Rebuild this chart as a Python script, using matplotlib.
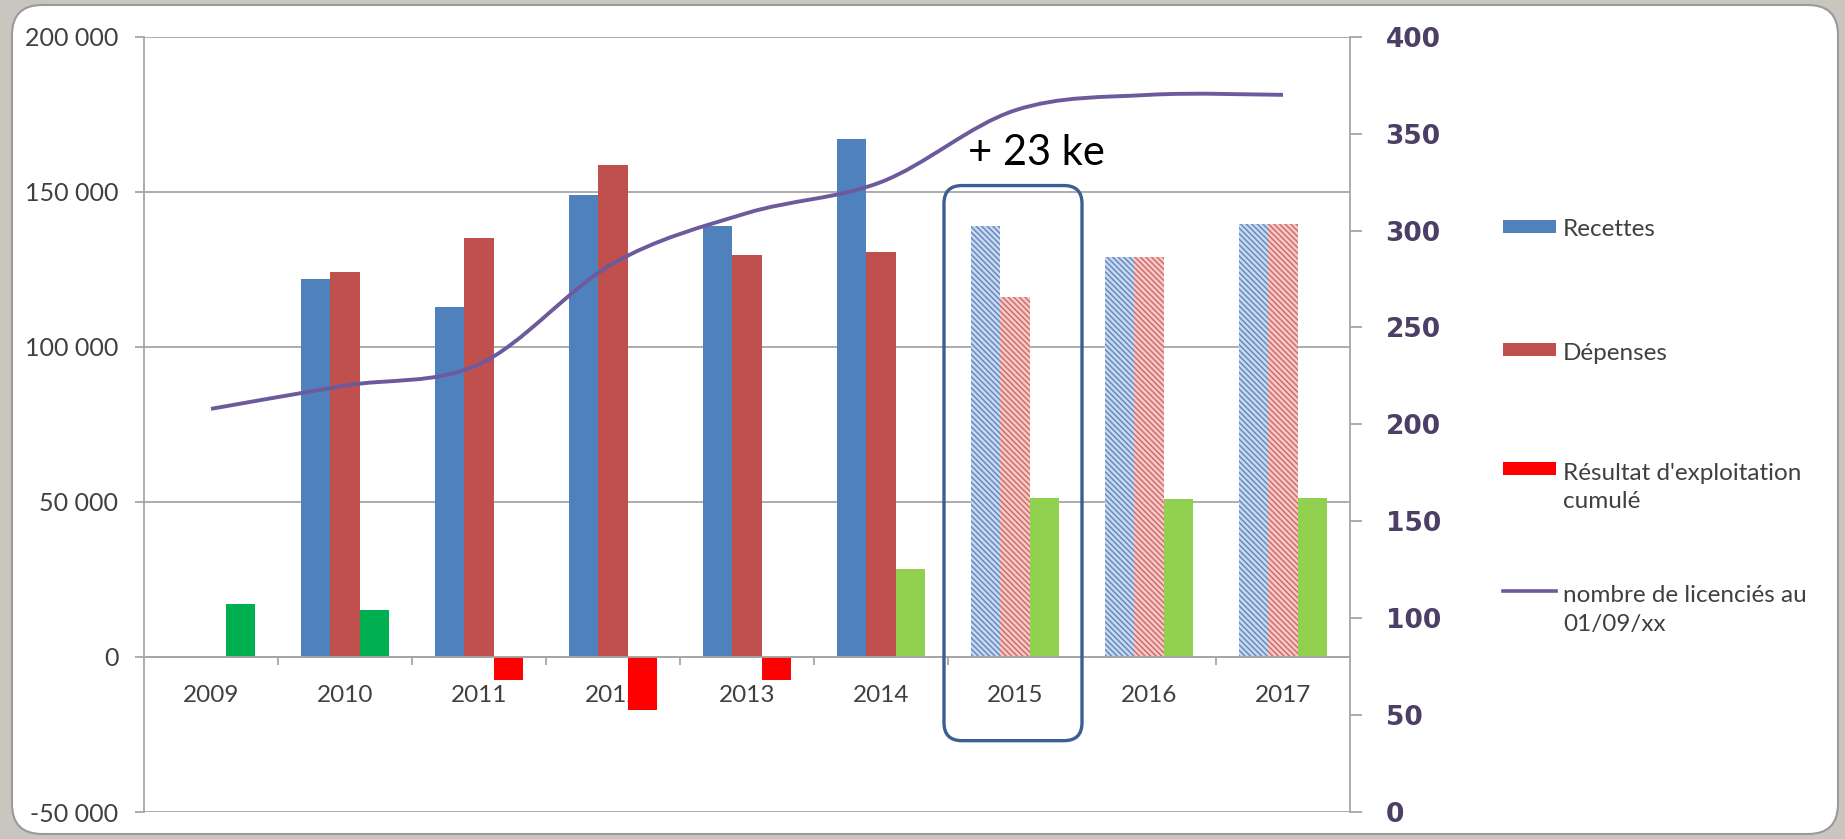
import matplotlib
matplotlib.use("Agg")
import matplotlib.pyplot as plt
import numpy as np
from matplotlib.lines import Line2D
from matplotlib.patches import FancyBboxPatch, PathPatch, Rectangle
from matplotlib.path import Path

W, H = 1845, 839

years = ["2009", "2010", "2011", "2012", "2013", "2014", "2015", "2016", "2017"]
recettes = [0, 122000, 113000, 149000, 139000, 167000, 139000, 129000, 139500]
depenses = [0, 124000, 135000, 158500, 129500, 130500, 116000, 129000, 139500]
resultat = [17200, 15000, -7500, -17000, -7500, 28300, 51300, 50900, 51300]
licencies = [208, 220, 231, 283, 309, 325, 362, 370, 370]
projected = [False, False, False, False, False, False, True, True, True]

BLUE = "#4F81BD"
RED = "#C0504D"
BLUE_LIGHT, BLUE_HATCH = "#c9d8ee", "#5e86bd"
RED_LIGHT, RED_HATCH = "#f6c9c7", "#cc6866"
RESULT_COLORS = ["#00B050", "#00B050", "#FF0000", "#FF0000", "#FF0000",
                 "#92D050", "#92D050", "#92D050", "#92D050"]
PURPLE = "#6c5a9c"
GRID = "#a6a6a6"
TEXT = "#404040"
RIGHT_TEXT = "#4d3e66"

plt.rcParams["font.family"] = ["Lato", "DejaVu Sans"]
plt.rcParams["hatch.linewidth"] = 1.0


def smooth_path(xs, ys):
    # Bezier curve through the points, like Excel's "smoothed line"
    pts = np.column_stack([xs, ys]).astype(float)
    n = len(pts)
    verts, codes = [pts[0]], [Path.MOVETO]
    for i in range(n - 1):
        p0, p1 = pts[max(i - 1, 0)], pts[i]
        p2, p3 = pts[i + 1], pts[min(i + 2, n - 1)]
        verts += [p1 + (p2 - p0) / 6, p2 - (p3 - p1) / 6, p2]
        codes += [Path.CURVE4] * 3
    return Path(verts, codes)


fig = plt.figure(figsize=(W / 100, H / 100), dpi=100)
fig.patch.set_facecolor("#c9c6c0")
panel = FancyBboxPatch((12 / W, 1 - 834 / H), 1826 / W, 829 / H,
                       boxstyle=f"round,pad=0,rounding_size={30 / W}",
                       mutation_aspect=W / H, transform=fig.transFigure,
                       facecolor="white", edgecolor="#9a9a9a", lw=1.5, zorder=-5)
fig.patches.append(panel)

ax_l, ax_b, ax_r, ax_t = 144, 812, 1350, 36.7
ax = fig.add_axes([ax_l / W, 1 - ax_b / H, (ax_r - ax_l) / W, (ax_b - ax_t) / H])
ax.set_facecolor("none")

x = np.arange(len(years))
proj = np.array(projected)
rec = np.array(recettes)
dep = np.array(depenses)
w = 0.22

ax.bar(x[~proj] - w, rec[~proj], w, color=BLUE, lw=0)
ax.bar(x[proj] - w, rec[proj], w, facecolor=BLUE_LIGHT, edgecolor=BLUE_HATCH,
       hatch="\\\\\\\\\\\\", lw=0)
ax.bar(x[~proj], dep[~proj], w, color=RED, lw=0)
ax.bar(x[proj], dep[proj], w, facecolor=RED_LIGHT, edgecolor=RED_HATCH,
       hatch="\\\\\\\\\\\\", lw=0)
ax.bar(x + w, resultat, w, color=RESULT_COLORS, lw=0)

ax.set_xlim(-0.5, len(years) - 0.5)
ax.set_ylim(-50000, 200000)
left_ticks = np.arange(-50000, 200001, 50000)
ax.set_yticks(left_ticks, [f"{int(v):,}".replace(",", " ") for v in left_ticks])
ax.grid(axis="y", color=GRID, lw=1.3)
ax.set_axisbelow(True)
for s in ["top", "right"]:
    ax.spines[s].set_visible(False)
ax.spines["left"].set_color(GRID)
ax.spines["left"].set_linewidth(1.3)
ax.spines["bottom"].set_position(("data", 0))
ax.spines["bottom"].set_color(GRID)
ax.spines["bottom"].set_linewidth(1.3)

ax.set_xticks(x[:-1] + 0.5)
ax.set_xticklabels([])
ax.set_xticks(x, minor=True)
ax.set_xticklabels(years, minor=True)
ax.tick_params(axis="x", which="major", direction="out", length=6, color=GRID, width=1.3)
ax.tick_params(axis="x", which="minor", length=0, pad=20, labelsize=17.5, labelcolor=TEXT)
ax.tick_params(axis="y", direction="out", length=6.5, color=GRID, width=1.3,
               pad=12, labelsize=18, labelcolor=TEXT)

ax2 = ax.twinx()
ax2.set_ylim(0, 400)
ax2.set_yticks(np.arange(0, 401, 50), [str(v) for v in range(0, 401, 50)],
               fontweight="bold", fontfamily="DejaVu Sans")
for s in ["top", "left", "bottom"]:
    ax2.spines[s].set_visible(False)
ax2.spines["right"].set_color(GRID)
ax2.spines["right"].set_linewidth(1.3)
ax2.tick_params(axis="y", direction="out", length=8.6, color=GRID, width=1.3,
                pad=17, labelsize=19, labelcolor=RIGHT_TEXT)

ax2.add_patch(PathPatch(smooth_path(x, licencies), facecolor="none",
                        edgecolor=PURPLE, lw=2.8, capstyle="butt"))

# callout on 2015
ax2.text(6.16, 162500, "+ 23 ke", transform=ax.transData, fontsize=30,
         color="black", ha="center", va="center")
aw, ah = ax_r - ax_l, ax_b - ax_t
bx0, bx1 = (5.47 + 0.5) / 9, (6.5 + 0.5) / 9
by0, by1 = (-27000 + 50000) / 250000, (152000 + 50000) / 250000
box = FancyBboxPatch((bx0, by0), bx1 - bx0, by1 - by0,
                     boxstyle=f"round,pad=0,rounding_size={18 / aw}",
                     mutation_aspect=aw / ah, transform=ax2.transAxes,
                     facecolor="none", edgecolor="#3b5f90", lw=2.4, clip_on=False)
ax2.add_patch(box)

# legend on the right
legend_items = [("Recettes", BLUE, "patch"), ("Dépenses", RED, "patch"),
                ("Résultat d'exploitation\ncumulé", "#FF0000", "patch"),
                ("nombre de licenciés au\n01/09/xx", PURPLE, "line")]
for (label, color, kind), yc in zip(legend_items, [226, 350, 469, 591]):
    if kind == "patch":
        fig.patches.append(Rectangle((1503 / W, 1 - (yc + 6.5) / H), 53 / W, 13 / H,
                                     transform=fig.transFigure, facecolor=color, lw=0))
    else:
        fig.lines.append(Line2D([1503 / W, 1556 / W], [1 - yc / H] * 2,
                                transform=fig.transFigure, color=color, lw=2.6))
    for k, line in enumerate(label.split("\n")):
        fig.text(1563 / W, 1 - (yc + 2 + 29 * k) / H, line, fontsize=17.5, color=TEXT,
                 ha="left", va="center_baseline")

fig.savefig("out.png", dpi=100, facecolor=fig.get_facecolor())
